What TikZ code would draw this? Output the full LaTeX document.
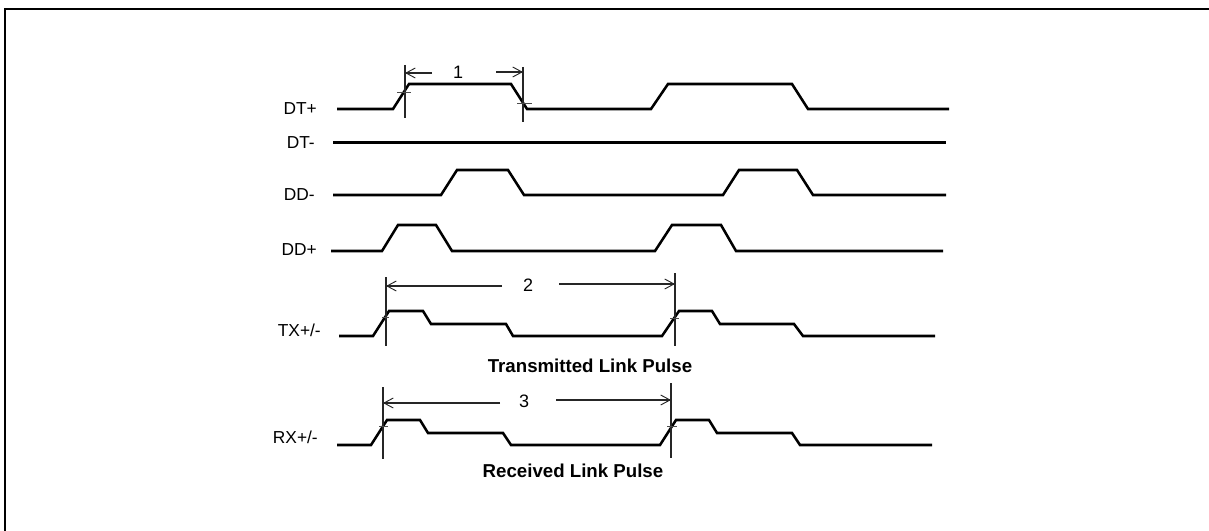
\documentclass[tikz,border=0pt]{standalone}
\usepackage{fontspec}
\setmainfont{Liberation Sans}
\usetikzlibrary{arrows.meta}
\tikzset{
  x=0.75pt,y=-0.75pt,
  wave/.style={line width=1.9pt,line join=miter,line cap=butt,black},
  vline/.style={line width=0.8pt,black!85},
  tickmark/.style={line width=0.7pt,black!70},
  dim/.style={line width=0.8pt,black!85,-{Straight Barb[length=7pt,width=7.5pt,line width=0.7pt]}},
  sig/.style={font=\fontsize{13}{16}\selectfont,inner sep=0pt,anchor=east},
  num/.style={font=\fontsize{13.5}{16}\selectfont,inner sep=0pt},
  captext/.style={font=\fontsize{14}{16}\selectfont\bfseries,inner sep=0pt},
}
\begin{document}
\begin{tikzpicture}
\useasboundingbox (0,0) rectangle (1209,531);
% frame
\draw[line width=1.7pt,black] (5,531) -- (5,9) -- (1209,9);
% labels
\node[sig] (dtp) at (317,109) {DT+};
\node[sig] (dtm) at (315,143) {DT-};
\node[sig] (ddm) at (315,195) {DD-};
\node[sig] (ddp) at (317,250) {DD+};
\node[sig] (tx) at (321,330) {TX+/-};
\node[sig] (rx) at (318,437) {RX+/-};
\node[num] (n1) at (458,72) {1};
\node[num] (n2) at (528,285) {2};
\node[num] (n3) at (524,401) {3};
\node[captext] (c1) at (590,366) {Transmitted Link Pulse};
\node[captext] (c2) at (573,471) {Received Link Pulse};
% waves
\draw[wave] (337,109) -- (393,109) -- (409,84) -- (511,84) -- (527,109) -- (651,109) -- (668,84) -- (792,84) -- (808,109) -- (949,109);
\draw[wave] (333,142.4) -- (946,142.4);
\draw[wave] (333,195) -- (441,195) -- (457,170) -- (508,170) -- (524,195) -- (723,195) -- (739,170) -- (797,170) -- (813,195) -- (946,195);
\draw[wave] (331,251) -- (382,251) -- (398,225) -- (436,225) -- (452,251) -- (655,251) -- (672,225) -- (721,225) -- (736,251) -- (943,251);
\draw[wave] (339,336) -- (373,336) -- (389,311) -- (423,311) -- (431,324) -- (506,324) -- (513,336) -- (662,336) -- (679,311) -- (712,311) -- (720,324) -- (794,324) -- (803,336) -- (935,336);
\draw[wave] (337,445) -- (371,445) -- (387,420) -- (420,420) -- (428,433) -- (503,433) -- (511,445) -- (660,445) -- (676,420) -- (709,420) -- (717,433) -- (792,433) -- (800,445) -- (932,445);
% pulse 1 dimension
\coordinate (a1) at (405,65); \coordinate (a2) at (405,118);
\coordinate (b1) at (523,67); \coordinate (b2) at (523,122);
\draw[vline] (a1) -- (a2);
\draw[vline] (b1) -- (b2);
\draw[tickmark] (397,92) -- (411,92);
\draw[tickmark] (517,103) -- (532,103);
\draw[dim] (432,73) -- (405,73);
\draw[dim] (496,72) -- (523,72);
% period 2
\draw[vline] (386,277) -- (386,346);
\draw[vline] (675,273) -- (675,346);
\draw[tickmark] (382,317) -- (389,317);
\draw[tickmark] (670,318) -- (679,318);
\draw[dim] (502,286) -- (386,286);
\draw[dim] (559,284) -- (675,284);
% period 3
\draw[vline] (383,387) -- (383,459);
\draw[vline] (671,383) -- (671,458);
\draw[tickmark] (379,426) -- (388,426);
\draw[tickmark] (667,426) -- (677,426);
\draw[dim] (500,403) -- (383,403);
\draw[dim] (556,400) -- (671,400);
\end{tikzpicture}
\end{document}
